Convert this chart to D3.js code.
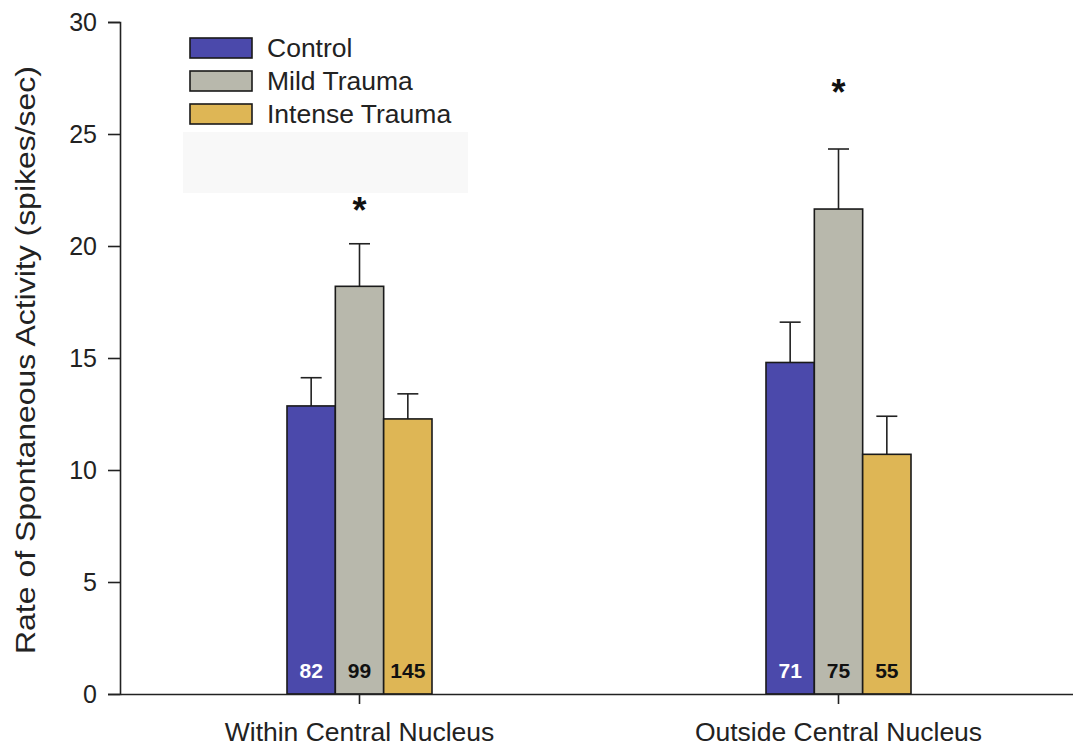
<!DOCTYPE html>
<html><head><meta charset="utf-8">
<script src="https://cdn.jsdelivr.net/npm/d3@7"></script>
<style>body{margin:0;background:#fff}svg{display:block;font-family:"Liberation Sans",Arial,sans-serif}</style>
</head><body><svg id="c" width="1073" height="748"></svg>
<script>
const categories = ["Within Central Nucleus", "Outside Central Nucleus"];
const groups = ["Control", "Mild Trauma", "Intense Trauma"];
const colors = ["#4b49ab", "#b8b8ac", "#deb655"];
const means = [[12.86, 18.2, 12.28], [14.8, 21.65, 10.7]];
const errors = [[1.26, 1.9, 1.12], [1.8, 2.68, 1.7]];
const counts = [[82, 99, 145], [71, 75, 55]];
const countColors = ["#ffffff", "#111111", "#111111"];
const sigMarkY = [21.8, 27.05];   // y value at which the "*" is centred
const yTicks = [0, 5, 10, 15, 20, 25, 30];

const svg = d3.select("#c");
const y = d3.scaleLinear().domain([0, 30]).range([694, 22]);
const x = d3.scaleBand().domain(categories).range([120, 1078]);
const xs = d3.scaleBand().domain(groups).range([0, 145]);

// faint rectangle behind legend
svg.append("rect").attr("x",183).attr("y",132).attr("width",285).attr("height",61).attr("fill","#f8f8f8");

// bars
categories.forEach((c, ci) => {
  const g = svg.append("g").attr("transform", `translate(${x(c) + x.bandwidth()/2 - 72.5},0)`);
  groups.forEach((gr, gi) => {
    const bx = xs(gr), bw = xs.bandwidth();
    const top = y(means[ci][gi] + errors[ci][gi]);
    g.append("line").attr("x1", bx + bw/2).attr("x2", bx + bw/2)
      .attr("y1", y(means[ci][gi])).attr("y2", top).attr("stroke", "#222").attr("stroke-width", 1.6);
    g.append("line").attr("x1", bx + bw/2 - 10.5).attr("x2", bx + bw/2 + 10.5)
      .attr("y1", top).attr("y2", top).attr("stroke", "#222").attr("stroke-width", 1.6);
    g.append("rect").attr("x", bx).attr("width", bw)
      .attr("y", y(means[ci][gi])).attr("height", y(0) - y(means[ci][gi]))
      .attr("fill", colors[gi]).attr("stroke", "#1a1a1a").attr("stroke-width", 1.6);
    g.append("text").attr("x", bx + bw/2).attr("y", 678).attr("text-anchor", "middle")
      .attr("font-size", 21).attr("font-weight", "bold").attr("fill", countColors[gi]).text(counts[ci][gi]);
  });
  svg.append("text").attr("x", x(c) + x.bandwidth()/2).attr("y", y(sigMarkY[ci]) + 17)
    .attr("text-anchor", "middle").attr("font-size", 36).attr("font-weight", "bold").attr("fill", "#111").text("*");
});

// axes
const ya = svg.append("g").attr("transform", "translate(120,0)")
  .call(d3.axisLeft(y).tickValues(yTicks).tickSize(12).tickPadding(11));
ya.selectAll("text").attr("font-size", 25).attr("fill", "#222").attr("font-family", "'Liberation Sans',Arial,sans-serif");
ya.selectAll("line,path").attr("stroke", "#222").attr("stroke-width", 1.6);

const xa = svg.append("g").attr("transform", "translate(0,694)")
  .call(d3.axisBottom(x).tickSize(10).tickSizeOuter(0).tickPadding(18));
xa.selectAll("text").attr("font-size", 26.5).attr("fill", "#222").attr("font-family", "'Liberation Sans',Arial,sans-serif");
xa.selectAll("line,path").attr("stroke", "#222").attr("stroke-width", 1.6);

svg.append("text").attr("transform", "translate(35,360) rotate(-90)").attr("text-anchor", "middle")
  .attr("font-size", 28).attr("fill", "#222").attr("textLength", 588).attr("lengthAdjust", "spacingAndGlyphs")
  .text("Rate of Spontaneous Activity (spikes/sec)");

// legend
groups.forEach((gr, gi) => {
  const ly = 38 + gi * 33;
  svg.append("rect").attr("x", 190).attr("y", ly).attr("width", 62).attr("height", 20)
    .attr("fill", colors[gi]).attr("stroke", "#1a1a1a").attr("stroke-width", 1.6);
  svg.append("text").attr("x", 267).attr("y", ly + 19).attr("font-size", 26.5).attr("fill", "#222").text(gr);
});
</script></body></html>
